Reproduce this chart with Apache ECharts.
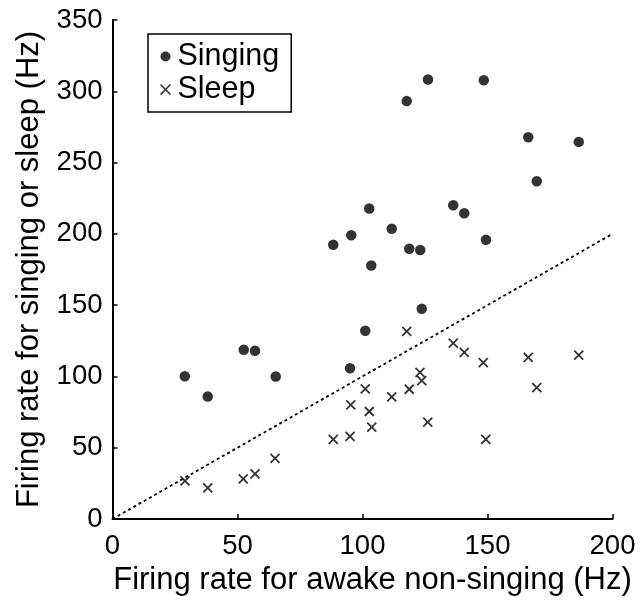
<!DOCTYPE html>
<html>
<head>
<meta charset="utf-8">
<script src="https://cdn.jsdelivr.net/npm/echarts@6/dist/echarts.min.js"></script>
<style>
  html, body { margin: 0; padding: 0; background: #fff; }
  #chart { width: 644px; height: 601px; }
</style>
</head>
<body>
<div id="chart"></div>
<script>
// firing rate during awake non-singing (x) vs singing (y)
const singingX = [28.9, 38.1, 52.5, 57.0, 65.3, 95.0, 101.1, 123.7, 126.2, 148.5, 117.7, 166.3,
  186.5, 169.7, 102.7, 95.5, 111.7, 118.7, 123.1, 103.5, 136.3, 140.7, 149.4, 88.3]
const singingY = [100.1, 85.9, 118.7, 118.0, 99.9, 105.7, 132.0, 147.4, 308.3, 307.8, 293.1, 267.7,
  264.5, 236.9, 217.8, 199.0, 203.6, 189.6, 188.7, 177.8, 220.1, 214.5, 195.9, 192.4]

// awake non-singing (x) vs sleep (y)
const sleepX = [29.0, 38.1, 52.3, 57.0, 65.0, 88.3, 95.0, 95.3, 101.1, 102.7, 103.7, 111.7,
  118.7, 117.7, 123.0, 123.7, 126.1, 136.3, 140.7, 148.3, 149.3, 166.3, 169.7, 186.5]
const sleepY = [26.7, 21.8, 28.1, 31.6, 42.5, 55.8, 57.9, 80.1, 91.3, 75.4, 64.5, 85.7,
  91.0, 131.6, 102.9, 97.1, 68.0, 123.4, 116.9, 109.7, 55.8, 113.4, 92.2, 115.0]

// unity line
const unityX = [0, 200]
const unityY = [0, 200]

const xTicks = [0, 50, 100, 150, 200]
const yTicks = [0, 50, 100, 150, 200, 250, 300, 350]

const FONT = '"Liberation Sans", Arial, Helvetica, sans-serif'
const crossPath = 'path://M0,0L10,10M0,10L10,0'

const zip = (xs, ys) => xs.map((x, i) => [x, ys[i]])

const chart = echarts.init(document.getElementById('chart'))

const axisCommon = {
  type: 'value',
  nameLocation: 'middle',
  nameTextStyle: { color: '#000', fontSize: 31, fontFamily: FONT },
  axisLine: { show: true, lineStyle: { color: '#000', width: 2 } },
  axisTick: { show: true, inside: true, length: 5, lineStyle: { color: '#000', width: 1.5 } },
  splitLine: { show: false },
  axisLabel: { color: '#000', fontSize: 27.5, fontFamily: FONT }
}

chart.setOption({
  animation: false,
  backgroundColor: '#fff',
  grid: { left: 112.5, right: 31.5, top: 20, bottom: 80.5 },
  xAxis: {
    ...axisCommon,
    min: xTicks[0],
    max: xTicks[xTicks.length - 1],
    interval: 50,
    name: 'Firing rate for awake non-singing (Hz)',
    nameGap: 46,
    // title sits a little right of the plot centre in the original
    nameTextStyle: { ...axisCommon.nameTextStyle, padding: [0, 0, 0, 20] },
    axisLabel: { ...axisCommon.axisLabel, margin: 13 }
  },
  yAxis: {
    ...axisCommon,
    min: yTicks[0],
    max: yTicks[yTicks.length - 1],
    interval: 50,
    name: 'Firing rate for singing or sleep (Hz)',
    nameGap: 68,
    axisLabel: { ...axisCommon.axisLabel, margin: 10 }
  },
  legend: {
    orient: 'vertical',
    left: 148,
    top: 34,
    padding: [7, 12, 7, 10],
    itemGap: 2,
    itemWidth: 14,
    itemHeight: 10,
    borderColor: '#000',
    borderWidth: 1.5,
    backgroundColor: '#fff',
    textStyle: { color: '#000', fontSize: 30.5, fontFamily: FONT },
    data: [
      { name: 'Singing', icon: 'circle', itemStyle: { color: '#000' } },
      { name: 'Sleep', icon: crossPath, itemStyle: { color: 'none', borderColor: '#000', borderWidth: 1.6 } }
    ]
  },
  series: [
    {
      name: 'unity',
      type: 'line',
      data: zip(unityX, unityY),
      symbol: 'none',
      silent: true,
      lineStyle: { color: '#000', width: 1.8, type: [3, 3] }
    },
    {
      name: 'Singing',
      type: 'scatter',
      data: zip(singingX, singingY),
      symbol: 'circle',
      symbolSize: 10.5,
      itemStyle: { color: '#000' }
    },
    {
      name: 'Sleep',
      type: 'scatter',
      data: zip(sleepX, sleepY),
      symbol: crossPath,
      symbolSize: 9,
      itemStyle: { color: 'none', borderColor: '#000', borderWidth: 1.8 }
    }
  ]
})
</script>
</body>
</html>
